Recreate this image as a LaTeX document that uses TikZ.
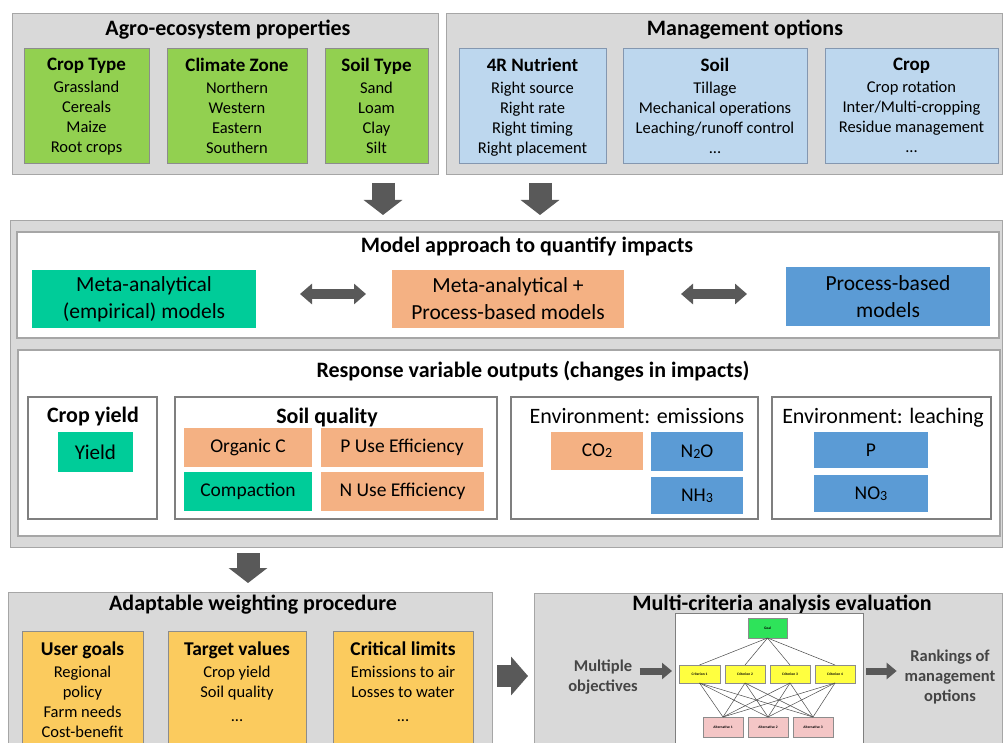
\documentclass[tikz,border=0pt]{standalone}
\usepackage{fontspec}
\setmainfont{Carlito}
\usetikzlibrary{arrows.meta}
\definecolor{cOutGray}{HTML}{D9D9D9}
\definecolor{cOutLine}{HTML}{A6A6A6}
\definecolor{cGreen}{HTML}{92D050}
\definecolor{cBoxLine}{HTML}{8C8C8C}
\definecolor{cLBlue}{HTML}{BDD7EE}
\definecolor{cLBlueLine}{HTML}{8497B0}
\definecolor{cTeal}{HTML}{00CC99}
\definecolor{cOrange}{HTML}{F4B183}
\definecolor{cBlue}{HTML}{5B9BD5}
\definecolor{cYellow}{HTML}{FBCB5E}
\definecolor{cArrow}{HTML}{595959}
\definecolor{cFrame}{HTML}{7F7F7F}
\definecolor{cWhiteLine}{HTML}{A6A6A6}
\definecolor{cGoal}{HTML}{2EE35A}
\definecolor{cCrit}{HTML}{FFFF40}
\definecolor{cAlt}{HTML}{F4C6C6}
\definecolor{cDarkText}{HTML}{454545}
\newcommand{\fsz}[2]{\fontsize{#1}{#2}\selectfont}
\newcommand{\lowsub}[1]{\raisebox{-1pt}{\fsz{14}{14}#1}}
\begin{document}
\begin{tikzpicture}[x=1pt,y=-1pt,
  every node/.style={inner sep=0pt, outer sep=0pt},
  rect/.style n args={4}{anchor=north west, at={(#1,#2)}, minimum width={(#3-#1)*1pt}, minimum height={(#4-#2)*1pt}},
  panel/.style={draw=cOutLine, fill=cOutGray, line width=1pt},
  wpanel/.style={draw=cWhiteLine, fill=white, line width=1.6pt},
  frame/.style={draw=cFrame, fill=white, line width=2.6pt},
  gbox/.style={draw=cBoxLine, fill=cGreen, line width=0.8pt},
  bbox/.style={draw=cLBlueLine, fill=cLBlue, line width=0.8pt},
  ybox/.style={draw=cBoxLine, fill=cYellow, line width=0.8pt},
  tealbox/.style={fill=cTeal},
  orbox/.style={fill=cOrange},
  blbox/.style={fill=cBlue},
  sect/.style={anchor=base, font=\fsz{22}{26}\bfseries},
  subt/.style={anchor=base, font=\fsz{22}{26}\bfseries},
  subr/.style={anchor=base, font=\fsz{22}{26}},
  listtxt/.style={anchor=north, align=center, font=\fsz{16.5}{20}},
  modeltxt/.style={align=center, font=\fsz{21.5}{27}},
  valtxt/.style={font=\fsz{19.5}{22}},
  sidetxt/.style={align=center, font=\fsz{16.5}{20}\bfseries, text=cDarkText},
  hgoal/.style={draw=cBoxLine, fill=cGoal, line width=0.4pt, font=\fsz{3.6}{4}\bfseries},
  hcrit/.style={draw=cBoxLine, fill=cCrit, line width=0.4pt, font=\fsz{3.6}{4}\bfseries},
  halt/.style={draw=cBoxLine, fill=cAlt, line width=0.4pt, font=\fsz{3.6}{4}\bfseries},
  hline/.style={draw=black!70, line width=0.5pt},
  bigarrow/.style={draw=cArrow, line width=23pt, -{Triangle[width=38pt,length=15pt]}},
  rarrow/.style={draw=cArrow, line width=22pt, -{Triangle[width=38pt,length=17pt]}},
  darrow/.style={draw=cArrow, line width=10pt, {Triangle[width=20pt,length=12pt]}-{Triangle[width=20pt,length=12pt]}},
  smallarrow/.style={draw=cArrow, line width=7pt, -{Triangle[width=16pt,length=10pt]}}
]
\useasboundingbox (0,0) rectangle (1003,743);
\clip (0,0) rectangle (1003,743);

% ---------- top panels ----------
\node[rect={12}{14}{438}{175}, panel] (agro) {};
\node[rect={446}{14}{1002}{175}, panel] (mgmt) {};
\node[sect] (agroT) at (228,36) {Agro-ecosystem properties};
\node[sect] (mgmtT) at (745,36) {Management options};

\node[rect={24}{48}{149}{163}, gbox] (croptype) {};
\node[rect={167}{48}{307}{163}, gbox] (climate) {};
\node[rect={325}{48}{428}{163}, gbox] (soiltype) {};
\node[listtxt] (croptypeT) at ([yshift=-10.5pt]croptype.north) {{\fsz{19}{22}\bfseries Crop Type}\\[2pt]Grassland\\Cereals\\Maize\\Root crops};
\node[listtxt] (climateT) at ([yshift=-10.5pt]climate.north) {{\fsz{19}{22}\bfseries Climate Zone}\\[2pt]Northern\\Western\\Eastern\\Southern};
\node[listtxt] (soiltypeT) at ([yshift=-10.5pt]soiltype.north) {{\fsz{19}{22}\bfseries Soil Type}\\[2pt]Sand\\Loam\\Clay\\Silt};

\node[rect={459}{48}{606}{163}, bbox] (nutr) {};
\node[rect={623}{48}{807}{163}, bbox] (soilm) {};
\node[rect={825}{48}{998}{163}, bbox] (cropm) {};
\node[listtxt] (nutrT) at ([yshift=-10.5pt]nutr.north) {{\fsz{19}{22}\bfseries 4R Nutrient}\\[2pt]Right source\\Right rate\\Right timing\\Right placement};
\node[listtxt] (soilmT) at ([yshift=-10.5pt]soilm.north) {{\fsz{19}{22}\bfseries Soil}\\[2pt]Tillage\\Mechanical operations\\Leaching/runoff control\\...};
\node[listtxt] (cropmT) at ([yshift=-10.5pt]cropm.north) {{\fsz{19}{22}\bfseries Crop}\\[2pt]Crop rotation\\Inter/Multi-cropping\\Residue management\\...};

% ---------- middle panel ----------
\node[rect={10}{221}{1002}{547}, panel] (mid) {};
\node[rect={17}{232}{999}{338}, wpanel] (modelw) {};
\node[rect={18}{350}{1000}{536}, wpanel] (respw) {};
\node[sect] (modelT) at (527,252) {Model approach to quantify impacts};
\node[rect={32}{270}{256}{328}, tealbox, modeltxt] (meta) {Meta-analytical\\(empirical) models};
\node[rect={392}{270}{624}{328}, orbox, modeltxt] (mixed) {Meta-analytical +\\Process-based models};
\node[rect={786}{267}{990}{326}, blbox, modeltxt] (proc) {Process-based\\models};

\node[sect] (respT) at (533,377) {Response variable outputs (changes in impacts)};
\node[rect={28}{397}{157}{519}, frame] (cyield) {};
\node[rect={175}{397}{497}{519}, frame] (squal) {};
\node[rect={511}{397}{758}{519}, frame] (emis) {};
\node[rect={772}{397}{991}{519}, frame] (leach) {};
\node[subt] (cyieldT) at (93,422) {Crop yield};
\node[subt] (squalT) at (327,423) {Soil quality};
\node[subr] (emisT) at (637,423) {Environment: emissions};
\node[subr] (leachT) at (883,423) {Environment: leaching};

\node[rect={58}{432}{133}{472}, tealbox, font=\fsz{21}{24}] (yield) {Yield};
\node[rect={184}{428}{312}{467}, orbox, valtxt] (orgc) {Organic C};
\node[rect={321}{428}{483}{467}, orbox, valtxt] (pue) {P Use Efficiency};
\node[rect={184}{472}{312}{511}, tealbox, valtxt] (comp) {Compaction};
\node[rect={321}{472}{484}{511}, orbox, valtxt] (nue) {N Use Efficiency};
\node[rect={551}{432}{643}{470}, orbox, valtxt] (co2) {CO\lowsub{2}};
\node[rect={651}{432}{743}{471}, blbox, valtxt] (n2o) {N\lowsub{2}O};
\node[rect={651}{477}{743}{514}, blbox, valtxt] (nh3) {NH\lowsub{3}};
\node[rect={814}{432}{928}{468}, blbox, valtxt] (pl) {P};
\node[rect={814}{475}{928}{512}, blbox, valtxt] (no3) {NO\lowsub{3}};

% ---------- bottom panels ----------
\node[rect={8}{592}{492}{760}, panel] (adapt) {};
\node[rect={534}{593}{1002}{760}, panel] (multi) {};
\node[sect] (adaptT) at (253,610) {Adaptable weighting procedure};
\node[sect] (multiT) at (782,610) {Multi-criteria analysis evaluation};

\node[rect={22}{631}{143}{760}, ybox] (user) {};
\node[rect={168}{631}{306}{760}, ybox] (target) {};
\node[rect={333}{631}{473}{760}, ybox] (crit) {};
\node[listtxt] (userT) at ([yshift=-10.5pt]user.north) {{\fsz{19.5}{22}\bfseries User goals}\\[2pt]Regional\\policy\\Farm needs\\Cost-benefit};
\node[listtxt] (targetT) at ([yshift=-10.5pt]target.north) {{\fsz{19.5}{22}\bfseries Target values}\\[2pt]Crop yield\\Soil quality\\[4.5pt]...};
\node[listtxt] (critT) at ([yshift=-10.5pt]crit.north) {{\fsz{19.5}{22}\bfseries Critical limits}\\[2pt]Emissions to air\\Losses to water\\[4.5pt]...};

% hierarchy picture
\node[rect={675}{613}{863}{760}, draw=cFrame, fill=white, line width=0.8pt] (mcimg) {};
\node[rect={748}{618}{787}{638}, hgoal] (goal) {Goal};
\node[rect={679}{665}{720}{683}, hcrit] (c1) {Criterion 1};
\node[rect={725}{665}{765}{683}, hcrit] (c2) {Criterion 2};
\node[rect={770}{665}{810}{683}, hcrit] (c3) {Criterion 3};
\node[rect={815}{665}{855}{683}, hcrit] (c4) {Criterion 4};
\node[rect={703}{717}{743}{737}, halt] (a1) {Alternative 1};
\node[rect={748}{717}{788}{737}, halt] (a2) {Alternative 2};
\node[rect={793}{717}{833}{737}, halt] (a3) {Alternative 3};
\foreach \c in {c1,c2,c3,c4} {
  \draw[hline] (goal.south) -- (\c.north);
  \foreach \a in {a1,a2,a3} { \draw[hline] (\c.south) -- (\a.north); }
}

\node[sidetxt] (multobj) at (603,677) {Multiple\\objectives};
\node[sidetxt] (rank) at (950,677) {Rankings of\\management\\options};

% ---------- arrows ----------
\coordinate (ar1) at ([xshift=158pt]agro.south);
\coordinate (ar2) at ([xshift=-184pt]mgmt.south);
\coordinate (ar3) at ([xshift=-258pt]mid.south);
\draw[bigarrow, shorten <=8pt, shorten >=6pt] (ar1) -- (ar1 |- mid.north);
\draw[bigarrow, shorten <=8pt, shorten >=6pt] (ar2) -- (ar2 |- mid.north);
\draw[bigarrow, shorten <=6pt, shorten >=9pt] (ar3) -- (ar3 |- adapt.north);

\coordinate (da1) at ([yshift=5pt]meta.east);
\coordinate (da2) at ([yshift=5pt]mixed.east);
\draw[darrow, shorten <=44pt, shorten >=26pt] (da1) -- (da1 -| mixed.west);
\draw[darrow, shorten <=57pt, shorten >=39pt] (da2) -- (da2 -| proc.west);

\draw[rarrow, shorten <=5pt, shorten >=6pt] (adapt.east) -- (adapt.east -| multi.west);

\coordinate (sa1) at ([yshift=6pt]multobj.east);
\coordinate (sa2) at ([yshift=6pt]rank.west);
\draw[smallarrow, shorten <=2pt, shorten >=3pt] (sa1) -- (sa1 -| mcimg.west);
\draw[smallarrow, shorten <=3pt, shorten >=8pt] (sa2 -| mcimg.east) -- (sa2);
\end{tikzpicture}
\end{document}
